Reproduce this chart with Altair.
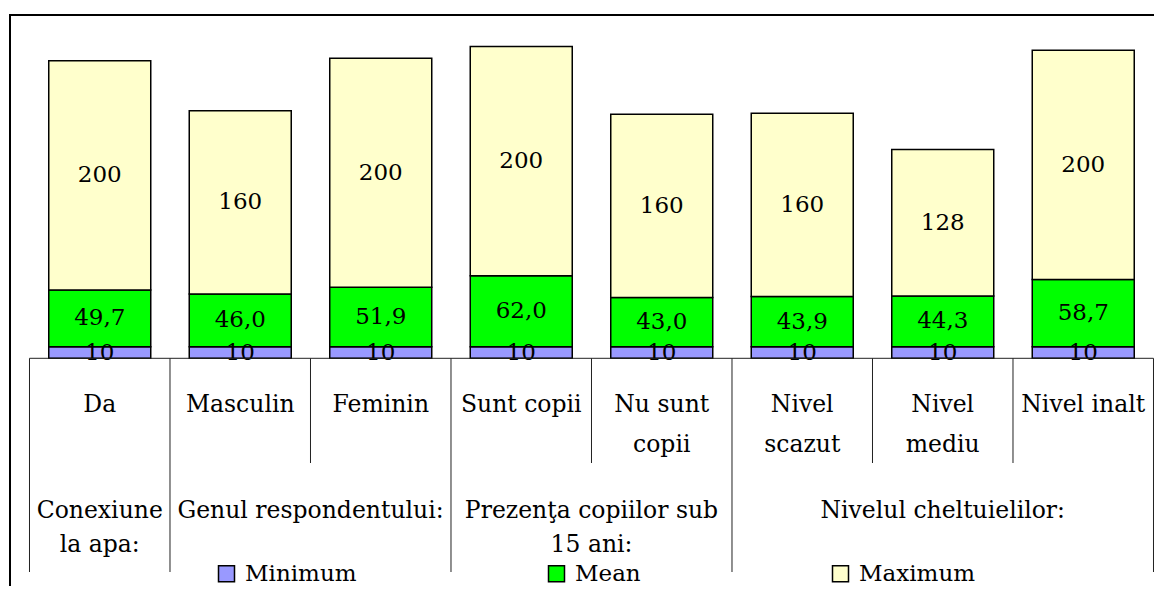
import altair as alt
import pandas as pd

# ---- data ----
categories = ["Da", "Masculin", "Feminin", "Sunt copii", "Nu sunt copii",
              "Nivel scazut", "Nivel mediu", "Nivel inalt"]
category_labels = ["Da", "Masculin", "Feminin", "Sunt copii", "Nu sunt\ncopii",
                   "Nivel\nscazut", "Nivel\nmediu", "Nivel inalt"]
minimum = [10, 10, 10, 10, 10, 10, 10, 10]
mean = [49.7, 46.0, 51.9, 62.0, 43.0, 43.9, 44.3, 58.7]
maximum = [200, 160, 200, 200, 160, 160, 128, 200]
groups = ["Conexiune\nla apa:", "Genul respondentului:",
          "Prezenţa copiilor sub\n15 ani:", "Nivelul cheltuielilor:"]
group_sizes = [1, 2, 2, 3]
series = ["Minimum", "Mean", "Maximum"]
colors = ["#9999FF", "#00FF00", "#FFFFCC"]

FONT = "DejaVu Serif"
FS_VAL = 23
FS_LAB = 23.5
FS_LEG = 23

# ---- tables built from the arrays ----
rows = []
for i, c in enumerate(categories):
    for j, (s, vals) in enumerate(zip(series, [minimum, mean, maximum])):
        rows.append({"cat": c, "pos": i + 0.5, "series": s, "order": j, "value": vals[i]})
bars_df = pd.DataFrame(rows)

cat_df = pd.DataFrame({"pos": [i + 0.5 for i in range(len(categories))],
                       "label": category_labels})

bounds = [0]
for g in group_sizes:
    bounds.append(bounds[-1] + g)
grp_df = pd.DataFrame({"pos": [(bounds[k] + bounds[k + 1]) / 2 for k in range(len(groups))],
                       "label": groups})
n_edges = len(categories) + 1
short_df = pd.DataFrame({"edge": [e for e in range(n_edges) if e not in bounds]})
short_df["base"] = 0
long_df = pd.DataFrame({"edge": [e for e in range(n_edges) if e in bounds]})
long_df["base"] = 0
axis_df = pd.DataFrame({"x0": [0], "x1": [len(categories)], "base": [0]})

W, H = 1144, 571
xscale = alt.Scale(domain=[-0.13879, 8.00356], nice=False, zero=False, padding=0)
yscale = alt.Scale(domain=[-198.69, 299.56], nice=False, zero=False)

X = alt.X("pos:Q", scale=xscale, axis=None)

bars = alt.Chart(bars_df).mark_bar(size=102, stroke="black", strokeWidth=1.5).encode(
    x=X,
    y=alt.Y("value:Q", stack="zero", scale=yscale, axis=None),
    fill=alt.Fill("series:N", scale=alt.Scale(domain=series, range=colors),
                  legend=alt.Legend(orient="none", legendX=205, legendY=547,
                                    direction="horizontal", title=None,
                                    symbolType="square", symbolSize=256,
                                    symbolStrokeColor="black", symbolStrokeWidth=1.5,
                                    labelFont=FONT, labelFontSize=FS_LEG, labelColor="black",
                                    labelOffset=7, columnPadding=188, padding=0)),
    order=alt.Order("order:Q"),
)

values = alt.Chart(bars_df).transform_window(
    cum="sum(value)", sort=[alt.SortField("order")], groupby=["cat"], frame=[None, 0]
).transform_calculate(
    mid="datum.cum - datum.value / 2",
    txt="datum.series == 'Mean' ? replace(format(datum.value, '.1f'), '.', ',') : format(datum.value, 'd')",
).mark_text(font=FONT, fontSize=FS_VAL, color="black", baseline="middle").encode(
    x=X,
    y=alt.Y("mid:Q", scale=yscale, axis=None),
    text="txt:N",
)

axis_line = alt.Chart(axis_df).mark_rule(color="#222", strokeWidth=1).encode(
    x=alt.X("x0:Q", scale=xscale, axis=None), x2="x1:Q",
    y=alt.Y("base:Q", scale=yscale, axis=None))

short_sep = alt.Chart(short_df).mark_rule(color="#222", strokeWidth=1).encode(
    x=alt.X("edge:Q", scale=xscale, axis=None),
    y=alt.Y("base:Q", scale=yscale, axis=None), y2=alt.value(448))

long_sep = alt.Chart(long_df).mark_rule(color="#222", strokeWidth=1).encode(
    x=alt.X("edge:Q", scale=xscale, axis=None),
    y=alt.Y("base:Q", scale=yscale, axis=None), y2=alt.value(557))

frame_top = alt.Chart(axis_df).mark_rule(color="black", strokeWidth=2).encode(
    x=alt.value(-1), x2=alt.value(W), y=alt.value(0))
frame_left = alt.Chart(axis_df).mark_rule(color="black", strokeWidth=2).encode(
    x=alt.value(0), y=alt.value(-1), y2=alt.value(H))

cat_text = alt.Chart(cat_df).mark_text(font=FONT, fontSize=FS_LAB, color="black",
                                       baseline="alphabetic", lineBreak="\n",
                                       lineHeight=40).encode(
    x=X, y=alt.value(397), text="label:N")
grp_text = alt.Chart(grp_df).mark_text(font=FONT, fontSize=FS_LAB, color="black",
                                       baseline="alphabetic", lineBreak="\n",
                                       lineHeight=34).encode(
    x=X, y=alt.value(503), text="label:N")

chart = alt.layer(bars, values, axis_line, short_sep, long_sep,
                  cat_text, grp_text, frame_top, frame_left).properties(
    width=W, height=H, padding={"left": 2, "top": 7, "right": 0, "bottom": 0},
    autosize=alt.AutoSizeParams(type="none"),
    background="white",
).configure_view(stroke=None)

chart.save("out.html", embed_options={"renderer": "svg", "actions": False})
